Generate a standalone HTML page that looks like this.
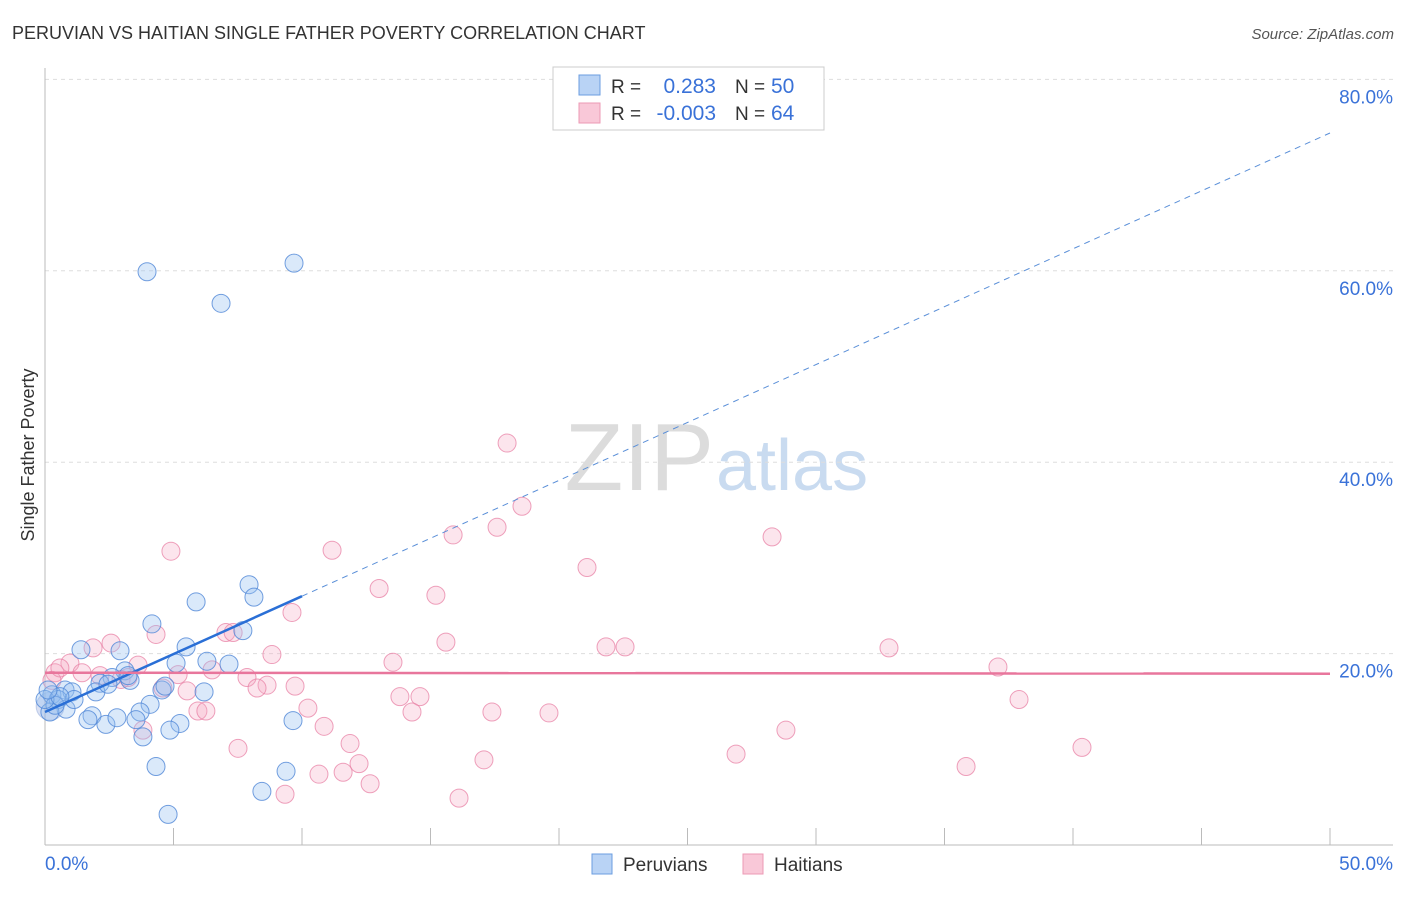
<!DOCTYPE html>
<html><head><meta charset="utf-8"><style>
body{margin:0;background:#fff;font-family:"Liberation Sans",sans-serif;}
svg text{font-family:"Liberation Sans",sans-serif;}
</style></head><body>
<svg id="chart" width="1406" height="892" xmlns="http://www.w3.org/2000/svg">
<text x="12" y="39" font-size="18" fill="#333">PERUVIAN VS HAITIAN SINGLE FATHER POVERTY CORRELATION CHART</text>
<text x="1394" y="39" font-size="15" fill="#555" text-anchor="end" font-style="italic">Source: ZipAtlas.com</text>
<text x="714" y="490" font-size="96" fill="#dcdcdc" text-anchor="end" font-family="Liberation Serif">ZIP</text>
<text x="716" y="490" font-size="72" fill="#c9dbf0">atlas</text>
<text x="34" y="455" font-size="18" fill="#333" text-anchor="middle" transform="rotate(-90 34 455)">Single Father Poverty</text>
<g id="grid"></g><g id="axes"></g><g id="pink"></g><g id="blue"></g><g id="trends"></g>
<g>
<rect x="553" y="67" width="271" height="63" fill="#fff" stroke="#ccc"/>
<rect x="579" y="75" width="21" height="20" fill="#b9d3f5" stroke="#6b9ee0"/>
<rect x="579" y="103" width="21" height="20" fill="#f9c8d8" stroke="#ec9ab5"/>
<text x="611" y="93" font-size="19" fill="#333">R = </text><text x="716" y="93" font-size="21" fill="#3a72d8" text-anchor="end">0.283</text>
<text x="735" y="93" font-size="19" fill="#333">N = </text><text x="771" y="93" font-size="21" fill="#3a72d8">50</text>
<text x="611" y="120" font-size="19" fill="#333">R = </text><text x="716" y="120" font-size="21" fill="#3a72d8" text-anchor="end">-0.003</text>
<text x="735" y="120" font-size="19" fill="#333">N = </text><text x="771" y="120" font-size="21" fill="#3a72d8">64</text>
</g>
<g>
<rect x="592" y="854" width="20" height="20" fill="#b9d3f5" stroke="#6b9ee0"/>
<text x="623" y="871" font-size="19" fill="#333">Peruvians</text>
<rect x="743" y="854" width="20" height="20" fill="#f9c8d8" stroke="#ec9ab5"/>
<text x="774" y="871" font-size="19" fill="#333">Haitians</text>
</g>
</svg>
<script>
const yTicks=[20,40,60,80];
const xTickLabels=["0.0%","50.0%"];
const blueX=[3.97,9.69,6.85,7.94,8.13,5.88,4.16,7.70,5.49,6.30,7.16,5.10,2.92,1.40,3.11,3.31,2.61,2.14,4.55,6.19,0.78,1.05,0.27,0.51,1.98,4.09,3.70,0.82,1.83,1.67,2.37,2.80,3.54,5.25,4.86,3.81,9.65,4.32,9.38,8.44,4.79,0.19,0.39,0.0,1.13,0.58,2.45,3.23,4.67,0.12];
const blueY=[59.9,60.8,56.6,27.2,25.9,25.4,23.1,22.4,20.7,19.2,18.9,19.0,20.3,20.4,18.2,17.2,17.5,16.9,16.2,16.0,16.2,16.0,15.7,15.2,16.0,14.7,13.9,14.2,13.5,13.1,12.6,13.3,13.1,12.7,12.0,11.3,13.0,8.2,7.7,5.6,3.2,13.9,14.6,15.2,15.2,15.5,16.8,17.7,16.6,16.2];
const pinkX=[17.98,18.56,17.59,15.88,28.29,4.90,11.17,21.09,13.00,15.21,9.61,4.32,7.04,7.32,15.60,21.83,22.57,32.84,2.57,1.87,0.97,3.62,8.83,13.54,37.08,1.44,0.39,6.50,5.18,7.86,2.96,8.64,9.73,8.25,5.53,4.59,13.81,14.59,37.90,10.23,5.95,6.26,14.28,17.39,19.61,10.86,3.81,11.87,7.51,26.89,28.83,40.35,17.08,12.22,10.66,11.60,35.84,12.65,9.34,16.11,0.27,2.14,0.58,3.23];
const pinkY=[42.0,35.4,33.2,32.4,32.2,30.7,30.8,29.0,26.8,26.1,24.3,22.0,22.2,22.2,21.2,20.7,20.7,20.6,21.1,20.6,19.0,18.8,19.9,19.1,18.6,18.0,18.0,18.3,17.8,17.5,17.3,16.7,16.6,16.4,16.1,16.4,15.5,15.5,15.2,14.3,14.0,14.0,13.9,13.9,13.8,12.4,12.0,10.6,10.1,9.5,12.0,10.2,8.9,8.5,7.4,7.6,8.2,6.4,5.3,4.9,17.2,17.7,18.5,17.5];
const blueTrend=[13.9,1.21];
const pinkTrend=[18.0,-0.002];
const NS="http://www.w3.org/2000/svg";
const X=v=>45+v*25.7, Y=v=>845-v*9.57;
function mk(tag,attrs,parent){const e=document.createElementNS(NS,tag);for(const k in attrs)e.setAttribute(k,attrs[k]);document.getElementById(parent).appendChild(e);return e;}
yTicks.forEach(t=>{
 const l=mk('line',{x1:45,x2:1393,y1:Y(t),y2:Y(t),stroke:'#ddd','stroke-dasharray':'4,4'},'grid');
 
 
 const tx=mk('text',{x:1393,y:Y(t)+24,'font-size':19,fill:'#3a72d8','text-anchor':'end'},'grid');
 tx.textContent=t.toFixed(1)+'%';
 
 
});
const ax=mk('line',{x1:45,x2:1393,y1:845,y2:845,stroke:'#bbb'},'axes');


const ay=mk('line',{x1:45,x2:45,y1:68,y2:845,stroke:'#bbb'},'axes');


for(let i=0;i<=10;i++){const t=mk('line',{x1:X(i*5),x2:X(i*5),y1:828,y2:845,stroke:'#bbb'},'axes');
 
 }
[[0,'start'],[50,'end']].forEach((p,i)=>{const t=mk('text',{x:i?1393:45,y:870,'font-size':19,fill:'#3a72d8','text-anchor':p[1]},'axes');t.textContent=xTickLabels[i];
 
 });
pinkX.forEach((x,i)=>{const c=mk('circle',{cx:X(x),cy:Y(pinkY[i]),r:9,fill:'rgba(246,170,196,0.3)',stroke:'rgba(232,130,165,0.75)','stroke-width':1},'pink');
 
 });
const big=mk('circle',{cx:X(0.2),cy:Y(14.5),r:14,fill:'rgba(150,170,220,0.35)',stroke:'rgba(120,150,210,0.4)'},'blue');


blueX.forEach((x,i)=>{const c=mk('circle',{cx:X(x),cy:Y(blueY[i]),r:9,fill:'rgba(150,192,240,0.35)',stroke:'rgba(80,135,215,0.8)','stroke-width':1},'blue');
 
 });
const bl=mk('line',{x1:X(0),y1:Y(blueTrend[0]),x2:X(10),y2:Y(blueTrend[0]+blueTrend[1]*10),stroke:'#2a6fd6','stroke-width':2.5},'trends');


const bd=mk('line',{x1:X(10),y1:Y(blueTrend[0]+blueTrend[1]*10),x2:X(50),y2:Y(blueTrend[0]+blueTrend[1]*50),stroke:'#5a8fd8','stroke-width':1,'stroke-dasharray':'6,5'},'trends');


const pl=mk('line',{x1:X(0),y1:Y(pinkTrend[0]),x2:X(50),y2:Y(pinkTrend[0]+pinkTrend[1]*50),stroke:'#e8769c','stroke-width':2.5},'trends');


</script>
</body></html>
